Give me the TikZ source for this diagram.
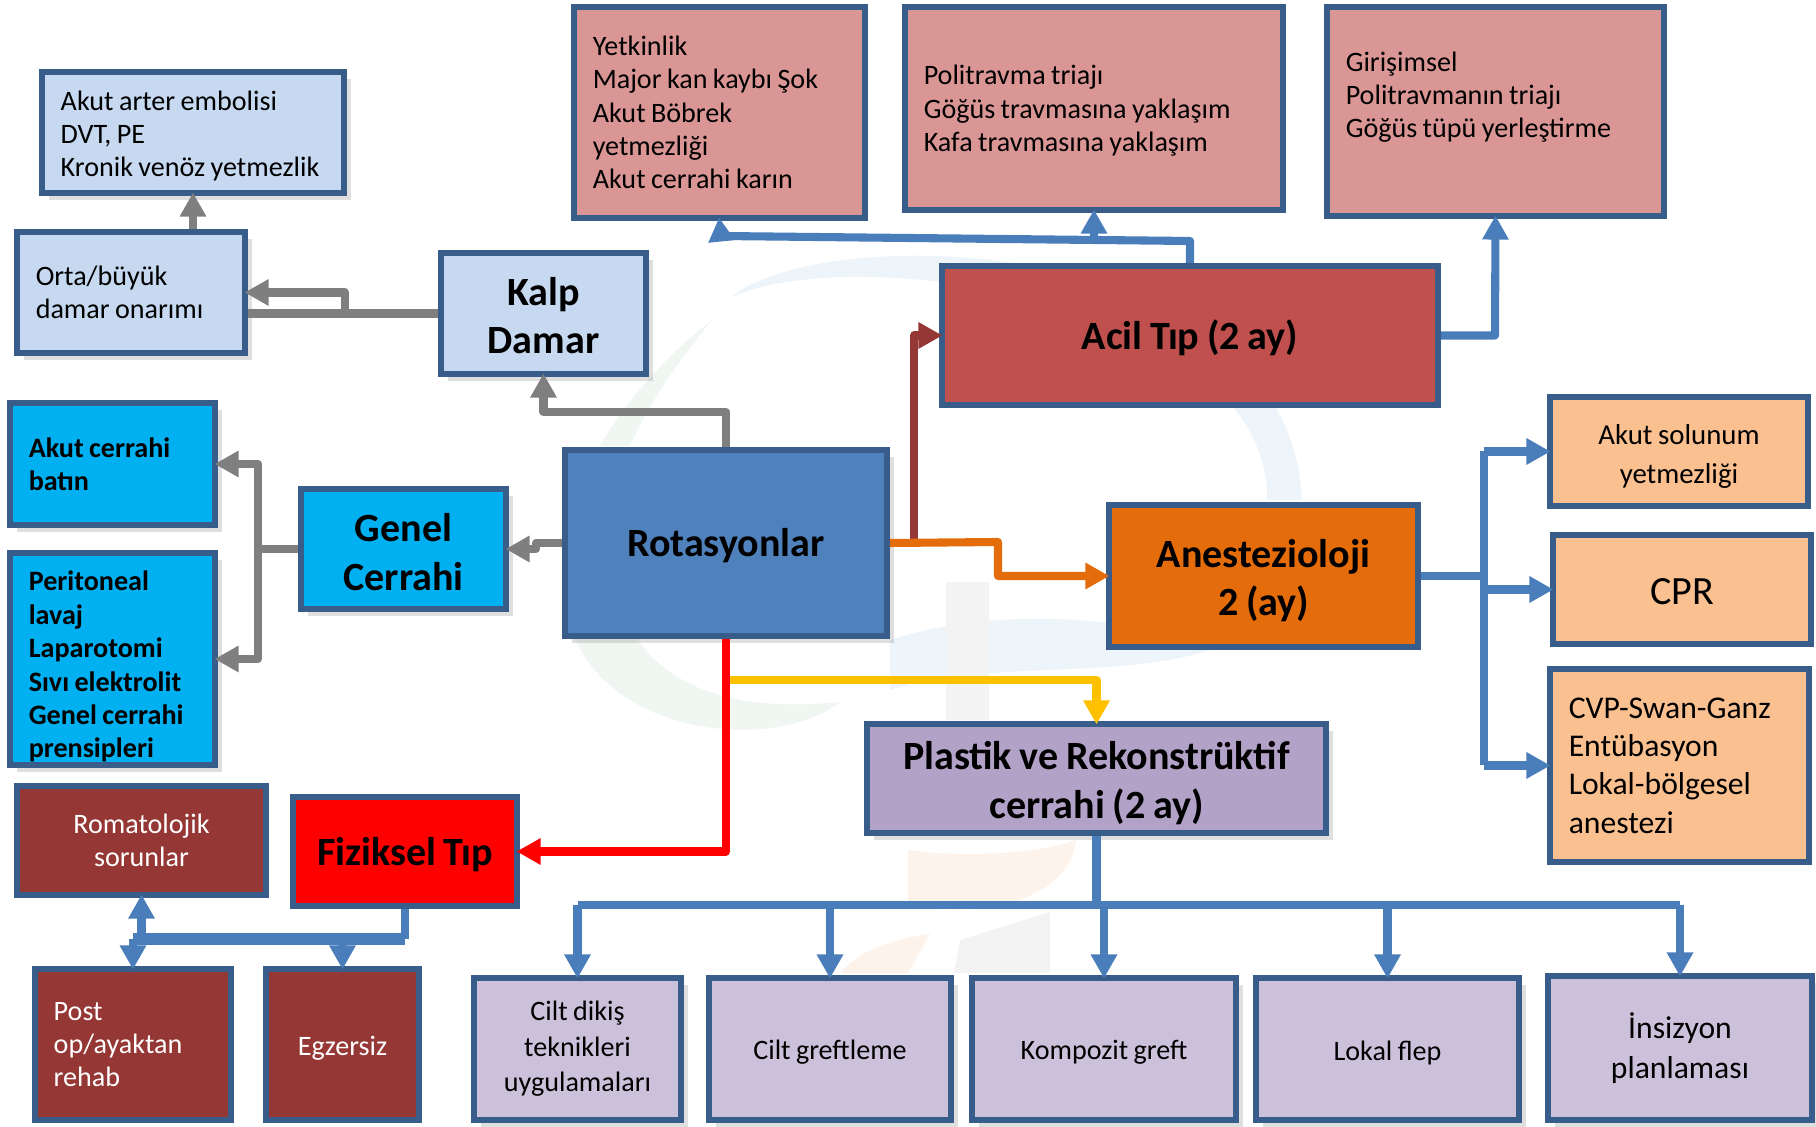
\documentclass[tikz,border=0pt]{standalone}
\usepackage{fontspec}
\setmainfont{Carlito}[WordSpace=0.85]
\usetikzlibrary{arrows.meta,shadows}
\definecolor{kenar}{HTML}{385D8A}
\definecolor{okmavi}{HTML}{4A7EBB}
\definecolor{okgri}{HTML}{7F7F7F}
\definecolor{bordo}{HTML}{953735}
\definecolor{turuncu}{HTML}{E46C0A}
\definecolor{sari}{HTML}{FFC000}
\definecolor{acikmavi}{HTML}{C6D9F1}
\definecolor{camgobegi}{HTML}{00B0F0}
\definecolor{pembe}{HTML}{D99694}
\definecolor{koyumavi}{HTML}{4F81BD}
\definecolor{kiremit}{HTML}{C0504D}
\definecolor{seftali}{HTML}{FAC090}
\definecolor{mor}{HTML}{B3A2C7}
\definecolor{lila}{HTML}{CCC1DA}
\definecolor{solukmavi}{HTML}{EEF5FA}
\definecolor{solukyesil}{HTML}{F0F6F1}
\definecolor{solukgri}{HTML}{F3F3F3}
\definecolor{solukturuncu}{HTML}{FDF3EA}
\newcommand{\ustpay}[1]{\rule{0pt}{#1}}
\tikzset{
  kart/.style={draw=kenar,line width=1.6pt,inner sep=0pt,align=center,font=\fontsize{8}{9.5}\selectfont},
  size/.style 2 args={minimum width=#1cm-0.055cm,minimum height=#2cm-0.055cm},
  leftsize/.style 2 args={minimum height=#2cm-0.055cm,inner xsep=0.19cm,text width=#1cm-0.435cm,align=flush left},
  asagi/.style={execute at begin node={\rule{0pt}{#1}}},
  asagi/.default=0.95em,
  baslik/.style={font=\fontsize{11.4}{13.8}\selectfont\bfseries},
  golge/.style={drop shadow={shadow xshift=2pt,shadow yshift=-2pt,opacity=0.25}},
  cizgi/.style={line width=2.3pt,line join=round},
  okucu/.style={cizgi,shorten >=-1pt,-{Triangle[length=0.24cm,width=0.25cm]}},
}
\begin{document}
\begin{tikzpicture}[y=-1cm]
\useasboundingbox (0,0) rectangle (18.16,11.27);
\fill[solukmavi] (7.3,2.98) .. controls (8.2,2.2) and (12.9,2.3) .. (13.02,5.0) -- (12.67,5.0) .. controls (12.7,3.0) and (8.5,2.4) .. (7.3,2.98);
\fill[solukyesil] (5.75,6.39) .. controls (6.2,7.4) and (7.8,7.5) .. (8.4,7.02) .. controls (7.6,7.1) and (6.8,7.0) .. (6.37,6.39);
\fill[solukyesil] (7.12,3.2) .. controls (6.6,3.6) and (6.2,4.1) .. (6.0,4.46) -- (6.3,4.46) .. controls (6.5,4.0) and (6.8,3.6) .. (7.12,3.2);
\fill[solukmavi] (8.9,6.4) .. controls (9.8,6.1) and (11.2,6.1) .. (12.1,6.5) .. controls (11.2,6.8) and (9.8,6.6) .. (8.9,6.9);
\fill[solukgri] (9.46,5.82) rectangle (9.89,7.2);
\fill[solukturuncu] (9.08,8.5) .. controls (9.8,8.6) and (10.5,8.5) .. (10.76,8.4) .. controls (10.7,9.0) and (9.8,9.2) .. (9.08,9.05);
\fill[solukturuncu] (8.4,9.73) .. controls (8.6,9.5) and (8.9,9.4) .. (9.3,9.34) -- (9.08,9.73);
\fill[solukgri] (9.54,9.73) -- (9.6,9.4) -- (10.5,9.12) -- (10.5,9.73);
\node[kart,golge,asagi,fill=acikmavi,leftsize={3.08}{1.27}] (arter) at (1.93,1.325) {Akut arter embolisi\\DVT, PE\\Kronik venöz yetmezlik};
\node[kart,golge,fill=acikmavi,leftsize={2.34}{1.27}] (orta) at (1.31,2.925) {Orta/büyük\\damar onarımı};
\node[kart,golge,baslik,fill=acikmavi,size={2.11}{1.27}] (kalp) at (5.435,3.135) {\ustpay{0.8em}Kalp\\Damar};
\node[kart,fill=pembe,leftsize={2.97}{2.17}] (yetkin) at (7.195,1.125) {Yetkinlik\\Major kan kaybı Şok\\Akut Böbrek\\yetmezliği\\Akut cerrahi karın};
\node[kart,asagi=0.87em,fill=pembe,leftsize={3.84}{2.09}] (politr) at (10.94,1.085) {Politravma triajı\\Göğüs travmasına yaklaşım\\Kafa travmasına yaklaşım};
\node[kart,fill=pembe,leftsize={3.43}{2.15}] (giris) at (14.955,1.115) {Girişimsel\\Politravmanın triajı\\Göğüs tüpü yerleştirme\\~};
\node[kart,baslik,asagi=0.88em,fill=kiremit,size={5.02}{1.45}] (acil) at (11.9,3.355) {Acil Tıp (2 ay)};
\node[kart,golge,baslik,asagi=0.85em,fill=koyumavi,size={3.28}{1.92}] (rot) at (7.26,5.43) {Rotasyonlar};
\node[kart,golge,baslik,fill=camgobegi,size={2.11}{1.26}] (genel) at (4.035,5.49) {\ustpay{0.86em}Genel\\Cerrahi};
\node[kart,golge,fill=camgobegi,leftsize={2.11}{1.28},font=\fontsize{8}{9.5}\selectfont\bfseries] (batin) at (1.125,4.64) {Akut cerrahi\\batın};
\node[kart,golge,asagi=1.25em,fill=camgobegi,leftsize={2.11}{2.18},font=\fontsize{8}{9.5}\selectfont\bfseries] (perit) at (1.125,6.59) {Peritoneal\\lavaj\\Laparotomi\\Sıvı elektrolit\\Genel cerrahi\\prensipleri};
\node[kart,baslik,fill=turuncu,size={3.15}{1.48}] (anest) at (12.635,5.76) {\ustpay{0.94em}Anestezioloji\\2 (ay)};
\node[kart,fill=seftali,size={2.64}{1.15},font=\fontsize{8.2}{10.9}\selectfont] (solunum) at (16.79,4.515) {\ustpay{1.03em}Akut solunum\\yetmezliği};
\node[kart,asagi=0.74em,fill=seftali,size={2.64}{1.15},font=\fontsize{11.4}{13}\selectfont] (cpr) at (16.82,5.895) {CPR};
\node[kart,fill=seftali,leftsize={2.65}{1.99},font=\fontsize{9}{10.9}\selectfont] (cvp) at (16.795,7.655) {CVP-Swan-Ganz\\Entübasyon\\Lokal-bölgesel\\anestezi};
\node[kart,golge,baslik,fill=mor,size={4.65}{1.15}] (plastik) at (10.965,7.785) {\ustpay{0.94em}Plastik ve Rekonstrüktif\\cerrahi (2 ay)};
\node[kart,fill=bordo,text=white,size={2.55}{1.15}] (romat) at (1.415,8.405) {Romatolojik\\sorunlar};
\node[kart,baslik,asagi=0.88em,fill=red,size={2.3}{1.15}] (fizik) at (4.05,8.515) {Fiziksel Tıp};
\node[kart,fill=bordo,text=white,leftsize={2.02}{1.57}] (post) at (1.33,10.445) {Post\\op/ayaktan\\rehab};
\node[kart,asagi,fill=bordo,text=white,size={1.59}{1.57}] (egz) at (3.425,10.445) {Egzersiz};
\node[kart,golge,fill=lila,size={2.13}{1.48},font=\fontsize{8}{10.1}\selectfont] (dikis) at (5.775,10.49) {Cilt dikiş\\teknikleri\\uygulamaları};
\node[kart,golge,asagi,fill=lila,size={2.48}{1.48}] (greft) at (8.3,10.49) {Cilt greftleme};
\node[kart,golge,asagi,fill=lila,size={2.7}{1.48}] (kompozit) at (11.04,10.49) {Kompozit greft};
\node[kart,golge,asagi,fill=lila,size={2.69}{1.48}] (flep) at (13.875,10.49) {Lokal flep};
\node[kart,golge,fill=lila,size={2.7}{1.5},font=\fontsize{9}{11.5}\selectfont] (insiz) at (16.8,10.48) {İnsizyon\\planlaması};
\coordinate (ortadal) at (3.45,3.13);
\coordinate (rotdal) at (5.36,5.43);
\coordinate (geneldal) at (2.58,5.49);
\coordinate (acildal) at (11.9,2.41);
\coordinate (yetkindal) at (7.21,2.36);
\coordinate (politrdal) at (10.94,2.39);
\coordinate (acilsag) at (14.95,3.355);
\coordinate (bordodal) at (9.14,5.42);
\coordinate (turuncudal) at (9.98,5.42);
\coordinate (saridal) at (7.3,6.8);
\coordinate (anestdal) at (14.84,5.76);
\coordinate (plastikdal) at (10.965,9.05);
\coordinate (fizikdal) at (4.05,9.39);
\draw[cizgi,okgri] (kalp.west) -- (orta.east |- kalp.west);
\draw[okucu,okgri] (ortadal) |- (orta.east);
\draw[okucu,okgri] (arter.south |- orta.north) -- (arter.south);
\draw[okucu,okgri] (rot.north) |- (5.435,4.12) -- (kalp.south);
\draw[okucu,okgri] (rot.west) -- (rotdal) -- (rotdal |- genel.east) -- (genel.east);
\draw[cizgi,okgri] (genel.west) -- (geneldal);
\draw[okucu,okgri] (geneldal) |- (batin.east);
\draw[okucu,okgri] (geneldal) |- (perit.east);
\draw[okucu,okmavi] (acil.north) -- (acildal) -- (yetkindal) -- (yetkin.south);
\draw[okucu,okmavi] (politrdal) -- (politr.south);
\draw[okucu,okmavi] (acil.east) -- (acilsag) -- (giris.south);
\draw[okucu,bordo] (bordodal) |- (acil.west);
\draw[okucu,turuncu] (rot.east) -- (turuncudal) |- (anest.west);
\draw[okucu,sari] (saridal) -| (plastik.north);
\draw[okucu,red] (rot.south) |- (fizik.east);
\draw[cizgi,okmavi] (anest.east) -- (anestdal);
\draw[cizgi,okmavi] (anestdal |- solunum.west) -- (anestdal |- cvp.west);
\foreach \hedef in {solunum,cpr,cvp}
  \draw[okucu,okmavi] (anestdal |- \hedef.west) -- (\hedef.west);
\draw[cizgi,okmavi] (plastik.south) -- (plastikdal);
\draw[cizgi,okmavi] (dikis.north |- plastikdal) -- (insiz.north |- plastikdal);
\foreach \hedef in {dikis,greft,kompozit,flep,insiz}
  \draw[okucu,okmavi] (\hedef.north |- plastikdal) -- (\hedef.north);
\draw[cizgi,okmavi] (fizik.south) -- (fizikdal);
\draw[cizgi,okmavi,line width=3.2pt] (fizikdal) -- (post.north |- fizikdal);
\draw[okucu,okmavi] (post.north |- fizikdal) -- (post.north);
\draw[okucu,okmavi] (egz.north |- fizikdal) -- (egz.north);
\draw[okucu,okmavi] (romat.south |- fizikdal) -- (romat.south);
\end{tikzpicture}
\end{document}
